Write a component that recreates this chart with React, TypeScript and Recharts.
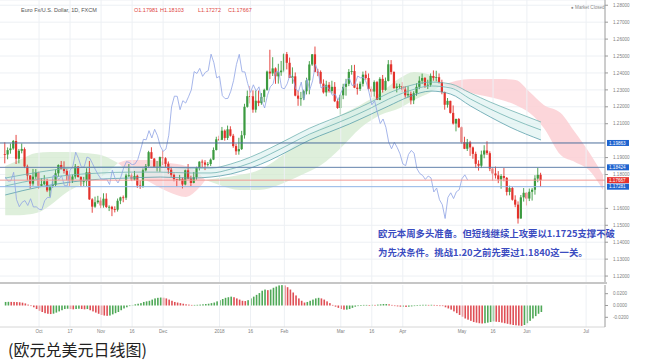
import React from 'react';
import { Area, Bar, CartesianGrid, ComposedChart, Line, ReferenceLine, XAxis, YAxis } from 'recharts';

// EUR/USD daily candles, one array per month: [open, high, low, close]
type Ohlc = [number, number, number, number];

const sep17: Ohlc[] = [
  [1.1920, 1.1990, 1.1866, 1.1918], [1.1918, 1.1960, 1.1890, 1.1944], [1.1944, 1.1983, 1.1923, 1.1954],
  [1.1954, 1.2004, 1.1946, 1.1998], [1.1998, 1.2034, 1.1862, 1.1893], [1.1893, 1.1951, 1.1866, 1.1940],
  [1.1940, 1.1983, 1.1925, 1.1951], [1.1950, 1.1960, 1.1838, 1.1847], [1.1847, 1.1858, 1.1765, 1.1794],
  [1.1794, 1.1797, 1.1718, 1.1746], [1.1746, 1.1833, 1.1734, 1.1787], [1.1787, 1.1832, 1.1774, 1.1813],
];
const oct17: Ohlc[] = [
  [1.1813, 1.1817, 1.1715, 1.1733], [1.1733, 1.1778, 1.1728, 1.1743], [1.1743, 1.1796, 1.1737, 1.1760],
  [1.1760, 1.1775, 1.1696, 1.1706], [1.1706, 1.1730, 1.1669, 1.1733], [1.1733, 1.1775, 1.1722, 1.1739],
  [1.1739, 1.1830, 1.1730, 1.1807], [1.1807, 1.1860, 1.1787, 1.1856], [1.1856, 1.1880, 1.1830, 1.1834],
  [1.1834, 1.1878, 1.1806, 1.1821], [1.1821, 1.1832, 1.1766, 1.1794], [1.1794, 1.1802, 1.1730, 1.1764],
  [1.1764, 1.1800, 1.1750, 1.1788], [1.1788, 1.1862, 1.1775, 1.1847], [1.1847, 1.1850, 1.1782, 1.1785],
  [1.1785, 1.1790, 1.1728, 1.1761], [1.1761, 1.1786, 1.1732, 1.1762], [1.1762, 1.1837, 1.1732, 1.1813],
  [1.1813, 1.1880, 1.1650, 1.1653], [1.1653, 1.1660, 1.1574, 1.1610], [1.1610, 1.1669, 1.1603, 1.1636],
  [1.1636, 1.1674, 1.1627, 1.1646],
];
const nov17: Ohlc[] = [
  [1.1646, 1.1665, 1.1601, 1.1617], [1.1617, 1.1689, 1.1604, 1.1657], [1.1657, 1.1689, 1.1602, 1.1608],
  [1.1608, 1.1618, 1.1584, 1.1609], [1.1609, 1.1615, 1.1554, 1.1595], [1.1595, 1.1612, 1.1576, 1.1592],
  [1.1592, 1.1658, 1.1581, 1.1645], [1.1645, 1.1669, 1.1625, 1.1665], [1.1665, 1.1676, 1.1636, 1.1663],
  [1.1663, 1.1805, 1.1650, 1.1794], [1.1794, 1.1862, 1.1785, 1.1795], [1.1795, 1.1807, 1.1761, 1.1769],
  [1.1769, 1.1821, 1.1765, 1.1792], [1.1792, 1.1799, 1.1721, 1.1735], [1.1735, 1.1764, 1.1715, 1.1733],
  [1.1733, 1.1836, 1.1722, 1.1825], [1.1825, 1.1862, 1.1818, 1.1850], [1.1850, 1.1940, 1.1842, 1.1932],
  [1.1932, 1.1961, 1.1893, 1.1894], [1.1894, 1.1897, 1.1843, 1.1844], [1.1844, 1.1880, 1.1818, 1.1845],
  [1.1845, 1.1906, 1.1816, 1.1903],
];
const dec17: Ohlc[] = [
  [1.1903, 1.1940, 1.1856, 1.1896], [1.1896, 1.1902, 1.1843, 1.1863], [1.1863, 1.1877, 1.1805, 1.1828],
  [1.1828, 1.1845, 1.1786, 1.1798], [1.1798, 1.1806, 1.1760, 1.1773], [1.1773, 1.1774, 1.1729, 1.1770],
  [1.1770, 1.1798, 1.1762, 1.1773], [1.1773, 1.1782, 1.1718, 1.1741], [1.1741, 1.1829, 1.1736, 1.1825],
  [1.1825, 1.1862, 1.1771, 1.1776], [1.1776, 1.1793, 1.1732, 1.1750], [1.1750, 1.1815, 1.1748, 1.1784],
  [1.1784, 1.1846, 1.1769, 1.1839], [1.1839, 1.1878, 1.1824, 1.1876], [1.1876, 1.1888, 1.1843, 1.1871],
  [1.1871, 1.1885, 1.1826, 1.1858], [1.1858, 1.1874, 1.1847, 1.1862], [1.1862, 1.1895, 1.1850, 1.1888],
  [1.1888, 1.1960, 1.1885, 1.1945], [1.1945, 1.2023, 1.1942, 1.2008],
];
const jan18: Ohlc[] = [
  [1.2008, 1.2029, 1.1998, 1.2005], [1.2005, 1.2081, 1.2003, 1.2059], [1.2059, 1.2066, 1.2000, 1.2016],
  [1.2016, 1.2089, 1.2004, 1.2067], [1.2067, 1.2085, 1.2024, 1.2029], [1.2029, 1.2040, 1.1958, 1.1968],
  [1.1968, 1.1982, 1.1916, 1.1937], [1.1937, 1.2017, 1.1917, 1.1950], [1.1950, 1.2058, 1.1945, 1.2032],
  [1.2032, 1.2218, 1.2012, 1.2200], [1.2200, 1.2296, 1.2195, 1.2263], [1.2263, 1.2323, 1.2220, 1.2262],
  [1.2262, 1.2297, 1.2165, 1.2183], [1.2183, 1.2296, 1.2166, 1.2236], [1.2236, 1.2296, 1.2204, 1.2222],
  [1.2222, 1.2281, 1.2212, 1.2259], [1.2259, 1.2307, 1.2227, 1.2300], [1.2300, 1.2414, 1.2295, 1.2408],
  [1.2408, 1.2537, 1.2364, 1.2397], [1.2397, 1.2493, 1.2382, 1.2427], [1.2427, 1.2433, 1.2336, 1.2380],
  [1.2380, 1.2454, 1.2337, 1.2404], [1.2404, 1.2471, 1.2383, 1.2414],
];
const feb18: Ohlc[] = [
  [1.2414, 1.2516, 1.2404, 1.2511], [1.2511, 1.2524, 1.2421, 1.2460], [1.2460, 1.2491, 1.2371, 1.2371],
  [1.2371, 1.2433, 1.2336, 1.2380], [1.2380, 1.2403, 1.2262, 1.2266], [1.2266, 1.2295, 1.2206, 1.2248],
  [1.2248, 1.2288, 1.2206, 1.2250], [1.2250, 1.2301, 1.2239, 1.2292], [1.2292, 1.2372, 1.2273, 1.2356],
  [1.2356, 1.2470, 1.2274, 1.2450], [1.2450, 1.2512, 1.2442, 1.2510], [1.2510, 1.2556, 1.2404, 1.2407],
  [1.2407, 1.2424, 1.2381, 1.2406], [1.2406, 1.2415, 1.2336, 1.2337], [1.2337, 1.2362, 1.2278, 1.2285],
  [1.2285, 1.2354, 1.2262, 1.2330], [1.2330, 1.2346, 1.2284, 1.2293], [1.2293, 1.2354, 1.2278, 1.2318],
  [1.2318, 1.2346, 1.2228, 1.2233], [1.2233, 1.2247, 1.2188, 1.2193],
];
const mar18: Ohlc[] = [
  [1.2193, 1.2273, 1.2154, 1.2268], [1.2268, 1.2336, 1.2245, 1.2318], [1.2318, 1.2365, 1.2266, 1.2336],
  [1.2336, 1.2423, 1.2322, 1.2406], [1.2406, 1.2446, 1.2390, 1.2411], [1.2411, 1.2448, 1.2310, 1.2313],
  [1.2313, 1.2337, 1.2272, 1.2306], [1.2306, 1.2349, 1.2294, 1.2336], [1.2336, 1.2408, 1.2320, 1.2390],
  [1.2390, 1.2413, 1.2360, 1.2370], [1.2370, 1.2397, 1.2301, 1.2306], [1.2306, 1.2320, 1.2257, 1.2290],
  [1.2290, 1.2356, 1.2260, 1.2346], [1.2346, 1.2353, 1.2240, 1.2241], [1.2241, 1.2375, 1.2239, 1.2365],
  [1.2365, 1.2388, 1.2284, 1.2300], [1.2300, 1.2373, 1.2295, 1.2353], [1.2353, 1.2476, 1.2350, 1.2451],
  [1.2451, 1.2476, 1.2391, 1.2406], [1.2406, 1.2409, 1.2306, 1.2311], [1.2311, 1.2338, 1.2285, 1.2320],
  [1.2320, 1.2336, 1.2306, 1.2323],
];
const apr18: Ohlc[] = [
  [1.2323, 1.2346, 1.2286, 1.2302], [1.2302, 1.2321, 1.2254, 1.2268], [1.2268, 1.2322, 1.2256, 1.2276],
  [1.2276, 1.2290, 1.2214, 1.2238], [1.2238, 1.2292, 1.2216, 1.2280], [1.2280, 1.2339, 1.2265, 1.2318],
  [1.2318, 1.2380, 1.2304, 1.2354], [1.2354, 1.2396, 1.2334, 1.2370], [1.2370, 1.2376, 1.2312, 1.2326],
  [1.2326, 1.2360, 1.2305, 1.2330], [1.2330, 1.2397, 1.2319, 1.2382], [1.2382, 1.2415, 1.2354, 1.2371],
  [1.2371, 1.2413, 1.2350, 1.2375], [1.2375, 1.2397, 1.2338, 1.2346], [1.2346, 1.2360, 1.2274, 1.2287],
  [1.2287, 1.2290, 1.2183, 1.2212], [1.2212, 1.2252, 1.2195, 1.2235], [1.2235, 1.2236, 1.2160, 1.2164],
  [1.2164, 1.2208, 1.2095, 1.2101], [1.2101, 1.2130, 1.2055, 1.2128], [1.2128, 1.2134, 1.2076, 1.2079],
];
const may18: Ohlc[] = [
  [1.2079, 1.2083, 1.1982, 1.1991], [1.1991, 1.2023, 1.1950, 1.1952], [1.1952, 1.2010, 1.1939, 1.1990],
  [1.1990, 1.1999, 1.1910, 1.1960], [1.1960, 1.1965, 1.1893, 1.1922], [1.1922, 1.1935, 1.1838, 1.1863],
  [1.1863, 1.1884, 1.1823, 1.1852], [1.1852, 1.1941, 1.1838, 1.1918], [1.1918, 1.1973, 1.1896, 1.1942],
  [1.1942, 1.1996, 1.1915, 1.1926], [1.1926, 1.1937, 1.1820, 1.1835], [1.1835, 1.1842, 1.1763, 1.1806],
  [1.1806, 1.1847, 1.1776, 1.1795], [1.1795, 1.1820, 1.1749, 1.1771], [1.1771, 1.1802, 1.1716, 1.1791],
  [1.1791, 1.1838, 1.1760, 1.1780], [1.1780, 1.1785, 1.1676, 1.1697], [1.1697, 1.1734, 1.1677, 1.1720],
  [1.1720, 1.1726, 1.1646, 1.1651], [1.1651, 1.1677, 1.1607, 1.1622], [1.1622, 1.1641, 1.1510, 1.1540],
  [1.1540, 1.1679, 1.1539, 1.1665], [1.1665, 1.1720, 1.1640, 1.1692],
];
const jun18: Ohlc[] = [
  [1.1692, 1.1695, 1.1617, 1.1658], [1.1658, 1.1717, 1.1643, 1.1698], [1.1698, 1.1720, 1.1646, 1.1710],
  [1.1710, 1.1796, 1.1681, 1.1776], [1.1776, 1.1840, 1.1754, 1.1798], [1.17981, 1.18103, 1.17272, 1.17667],
];

// Awesome Oscillator, one value per candle
const ao2017 = [
  0.0060, 0.0062, 0.0061, 0.0060, 0.0058, 0.0055, 0.0048, 0.0035, 0.0015, -0.0005,
  -0.003, -0.006, -0.009, -0.011, -0.013, -0.014, -0.0145, -0.0138, -0.012, -0.010,
  -0.008, -0.006, -0.0055, -0.006, -0.0065, -0.006, -0.0055, -0.006, -0.0065, -0.006,
  -0.008, -0.010, -0.012, -0.014, -0.016, -0.017, -0.0175, -0.017, -0.015, -0.013,
  -0.011, -0.008, -0.005, -0.003, -0.001, 0.001, 0.002, 0.003, 0.004, 0.006,
  0.007, 0.008, 0.010, 0.012, 0.013, 0.0135, 0.0132, 0.012, 0.010, 0.008,
  0.006, 0.005, 0.004, 0.003, 0.002, 0.0015, 0.001, 0.001, 0.0012, 0.0015,
  0.002, 0.0025, 0.003, 0.004, 0.005, 0.007,
];
const ao2018 = [
  0.009, 0.011, 0.013, 0.014, 0.015, 0.014, 0.012, 0.010, 0.008, 0.0075,
  0.009, 0.012, 0.015, 0.018, 0.021, 0.025, 0.027, 0.026, 0.027, 0.030,
  0.032, 0.034, 0.0345, 0.034, 0.031, 0.027, 0.022, 0.017, 0.012, 0.008,
  0.005, 0.006, 0.008, 0.010, 0.012, 0.013, 0.012, 0.010, 0.007, 0.004,
  0.001, -0.002, -0.004, -0.006, -0.007, -0.007, -0.006, -0.004, -0.002, -0.001,
  0.0005, 0.001, 0.001, 0.0008, 0.0012, 0.001, 0.0015, 0.002, 0.0025, 0.0025,
  0.002, 0.001, -0.001, -0.0015, -0.002, -0.002, -0.0025, -0.002, -0.0015, -0.001,
  0.0005, 0.001, 0.0012, 0.0012, 0.001, 0.0012, 0.001, 0.0005, 0.0, -0.001,
  -0.003, -0.005, -0.007, -0.010, -0.013, -0.016, -0.019, -0.022, -0.024, -0.026,
  -0.028, -0.029, -0.030, -0.0305, -0.030, -0.029, -0.028, -0.027, -0.0275, -0.028,
  -0.029, -0.030, -0.031, -0.032, -0.033, -0.0335, -0.034, -0.0345, -0.033, -0.030,
  -0.026, -0.022, -0.018, -0.014, -0.011,
];

// Ichimoku cloud: [date, upper, lower]
const cloudGreenA: [string, number, number][] = [
  ['2017-09-14', 1.1850, 1.1560], ['2017-09-21', 1.1886, 1.1560], ['2017-09-29', 1.1927, 1.1572],
  ['2017-10-06', 1.1933, 1.1619], ['2017-10-16', 1.1933, 1.1696], ['2017-10-24', 1.1927, 1.1749],
  ['2017-11-01', 1.1915, 1.1785], ['2017-11-07', 1.1886, 1.1838], ['2017-11-09', 1.1868, 1.1868],
];
const cloudRedA: [string, number, number][] = [
  ['2017-11-09', 1.1868, 1.1868], ['2017-11-15', 1.1886, 1.1815], ['2017-11-24', 1.1886, 1.1757],
  ['2017-12-05', 1.1868, 1.1696], ['2017-12-13', 1.1850, 1.1667], ['2017-12-19', 1.1815, 1.1708],
  ['2017-12-22', 1.1767, 1.1767],
];
const cloudGreenB: [string, number, number][] = [
  ['2017-12-22', 1.1767, 1.1767], ['2018-01-01', 1.1779, 1.1738], ['2018-01-10', 1.1797, 1.1708],
  ['2018-01-19', 1.1826, 1.1708], ['2018-01-30', 1.1897, 1.1738], ['2018-02-09', 1.2004, 1.1797],
  ['2018-02-20', 1.2075, 1.1856], ['2018-03-01', 1.2151, 1.1957], ['2018-03-12', 1.2211, 1.2075],
  ['2018-03-21', 1.2281, 1.2151], ['2018-03-30', 1.2370, 1.2193], ['2018-04-06', 1.2406, 1.2240],
  ['2018-04-16', 1.2388, 1.2287], ['2018-04-20', 1.2330, 1.2330],
];
const cloudRedB: [string, number, number][] = [
  ['2018-04-20', 1.2330, 1.2330], ['2018-05-04', 1.2364, 1.2281], ['2018-05-21', 1.2364, 1.2240],
  ['2018-05-28', 1.2358, 1.2211], ['2018-06-04', 1.2287, 1.2163], ['2018-06-11', 1.2211, 1.2075],
  ['2018-06-19', 1.2163, 1.1915], ['2018-06-26', 1.2051, 1.1874], ['2018-07-03', 1.1933, 1.1826],
  ['2018-07-10', 1.1797, 1.1708],
];

// moving-average ribbon: [date, upper, middle, lower]
const ribbon: [string, number, number, number][] = [
  ['2017-09-14', 1.1779, 1.1732, 1.1679], ['2017-10-02', 1.1814, 1.1773, 1.1726],
  ['2017-10-17', 1.1838, 1.1797, 1.1755], ['2017-11-01', 1.1844, 1.1809, 1.1773],
  ['2017-11-15', 1.1844, 1.1814, 1.1779], ['2017-11-30', 1.1844, 1.1814, 1.1785],
  ['2017-12-15', 1.1838, 1.1809, 1.1779], ['2017-12-27', 1.1838, 1.1809, 1.1785],
  ['2018-01-05', 1.1862, 1.1832, 1.1803], ['2018-01-16', 1.1903, 1.1868, 1.1838],
  ['2018-01-25', 1.1956, 1.1921, 1.1885], ['2018-02-05', 1.2015, 1.1980, 1.1944],
  ['2018-02-14', 1.2074, 1.2039, 1.2004], ['2018-02-23', 1.2122, 1.2086, 1.2051],
  ['2018-03-06', 1.2169, 1.2134, 1.2098], ['2018-03-15', 1.2222, 1.2187, 1.2151],
  ['2018-03-26', 1.2281, 1.2246, 1.2205], ['2018-04-04', 1.2323, 1.2293, 1.2258],
  ['2018-04-16', 1.2346, 1.2323, 1.2293], ['2018-04-25', 1.2335, 1.2311, 1.2275],
  ['2018-05-04', 1.2281, 1.2246, 1.2205], ['2018-05-15', 1.2228, 1.2187, 1.2140],
  ['2018-05-24', 1.2181, 1.2134, 1.2080], ['2018-06-08', 1.2110, 1.2063, 1.2004],
];

// 1.20 and 1.17 sit under the price tags in the original, so they are left out
const PRICE_TICKS = [1.12, 1.13, 1.14, 1.15, 1.16, 1.18, 1.19, 1.21, 1.22, 1.23, 1.24, 1.25, 1.26, 1.27, 1.28];
const AO_TICKS = [-0.02, 0, 0.02];
const TICK_DATES = [
  '2017-10-02', '2017-10-17', '2017-11-01', '2017-11-16', '2017-12-01', '2018-01-01', '2018-01-16',
  '2018-02-01', '2018-03-01', '2018-03-16', '2018-04-02', '2018-05-01', '2018-05-16', '2018-06-01', '2018-07-02',
];
const TICK_LABELS = ['Oct', '17', 'Nov', '16', 'Dec', '2018', '16', 'Feb', 'Mar', '16', 'Apr', 'May', '16', 'Jun', 'Jul'];

const GREEN = '#3b9a3f';
const RED = '#e3322c';
const X_DOMAIN: [number, number] = [-1.844, 212.7];
const LAG = 26;

// weekday bar dates (FXCM skips Christmas day)
function tradingDays(count: number): string[] {
  const out: string[] = [];
  const d = new Date(Date.UTC(2017, 8, 14));
  while (out.length < count) {
    const dow = d.getUTCDay();
    const iso = d.toISOString().slice(0, 10);
    if (dow !== 0 && dow !== 6 && iso !== '2017-12-25') out.push(iso);
    d.setUTCDate(d.getUTCDate() + 1);
  }
  return out;
}

const candles = [...sep17, ...oct17, ...nov17, ...dec17, ...jan18, ...feb18, ...mar18, ...apr18, ...may18, ...jun18];
const aoValues = [...ao2017, ...ao2018];
const DAYS = tradingDays(213);
const dayIndex = (iso: string) => DAYS.indexOf(iso);
const tickIdx = TICK_DATES.map(dayIndex);

const rows: any[] = DAYS.map((date, i) => {
  const row: any = { i, date };
  const k = candles[i];
  if (k) {
    row.o = k[0]; row.h = k[1]; row.l = k[2]; row.c = k[3];
    row.hl = [k[2], k[1]];
  }
  if (i < aoValues.length) {
    row.ao = aoValues[i];
    row.aoUp = i === 0 || aoValues[i] >= aoValues[i - 1];
  }
  if (candles[i + LAG]) row.lag = candles[i + LAG][3];
  return row;
});

const putCloud = (key: string, list: [string, number, number][]) =>
  list.forEach(([d, hi, lo]) => { rows[dayIndex(d)][key] = [lo, hi]; });
putCloud('g1', cloudGreenA);
putCloud('r1', cloudRedA);
putCloud('g2', cloudGreenB);
putCloud('r2', cloudRedB);
ribbon.forEach(([d, t, m, b]) => {
  const r = rows[dayIndex(d)];
  r.rt = t; r.rm = m; r.rb = b; r.rband = [b, t];
});

const tickLabel = (v: number) => TICK_LABELS[tickIdx.indexOf(v)] ?? '';

function Candle(props: any) {
  const { x, y, width, height, payload } = props;
  if (!payload || payload.o == null) return null;
  const { o, h, l, c } = payload;
  const cx = x + width / 2;
  const span = h - l || 1e-6;
  const yOf = (v: number) => y + ((h - v) / span) * height;
  const color = c >= o ? GREEN : RED;
  const top = yOf(Math.max(o, c));
  const bot = yOf(Math.min(o, c));
  return (
    <g>
      <line x1={cx} x2={cx} y1={y} y2={y + height} stroke={color} strokeWidth={0.9} />
      <rect x={cx - 1.1} y={top} width={2.2} height={Math.max(bot - top, 0.8)} fill={color} />
    </g>
  );
}

function AoBar(props: any) {
  const { x, y, width, height, payload } = props;
  if (!payload || payload.ao == null) return null;
  const top = height < 0 ? y + height : y;
  return <rect x={x} y={top} width={width} height={Math.max(Math.abs(height), 0.6)} fill={payload.aoUp ? '#4fa857' : '#df4f55'} />;
}

function PriceTag(props: any) {
  const { viewBox, text, color } = props;
  if (!viewBox) return null;
  const x = viewBox.x + viewBox.width;
  const y = viewBox.y;
  return (
    <g>
      <rect x={x + 2} y={y - 3} width={22} height={6} fill={color} />
      <text x={x + 4} y={y + 1.7} fontSize={4.6} fill="#fff" fontFamily="Liberation Sans, Arial, sans-serif">{text}</text>
    </g>
  );
}

const noDots = { dot: false, activeDot: false, isAnimationActive: false } as const;
const smallTick = { fontSize: 4.6, fill: '#808080', fontFamily: 'Liberation Sans, Arial, sans-serif' };
const note = { position: 'absolute' as const, left: 378, fontSize: 9.4, lineHeight: '12px', fontWeight: 700, color: '#3b4cc0', whiteSpace: 'nowrap' as const, fontFamily: '"Noto Sans CJK SC", sans-serif' };
const head = { position: 'absolute' as const, top: 6, fontSize: 5.5, lineHeight: '8px', whiteSpace: 'nowrap' as const, fontFamily: 'Liberation Sans, Arial, sans-serif' };

export default function App() {
  return (
    <div style={{ position: 'absolute', left: 0, top: 0, width: 647, height: 363, background: '#fff', overflow: 'hidden' }}>
      <ComposedChart width={647} height={283} data={rows} margin={{ top: 0, right: 0, bottom: 0, left: 0 }}>
        <CartesianGrid vertical={false} stroke="#edf0f4" />
        <XAxis dataKey="i" type="number" domain={X_DOMAIN} allowDataOverflow hide />
        <YAxis
          orientation="right"
          width={42}
          domain={[1.1159, 1.2831]}
          allowDataOverflow
          ticks={PRICE_TICKS}
          interval={0}
          tickFormatter={(v: number) => v.toFixed(5)}
          tick={smallTick}
          tickSize={3}
          tickMargin={5}
          axisLine={{ stroke: '#9a9a9a' }}
          tickLine={{ stroke: '#9a9a9a' }}
        />
        {tickIdx.map((t) => (
          <ReferenceLine key={t} x={t} stroke="#edf0f4" />
        ))}
        <Area type="monotone" dataKey="g1" stroke="none" fill="#d3eacf" fillOpacity={0.75} connectNulls {...noDots} />
        <Area type="monotone" dataKey="r1" stroke="none" fill="#fbcfd3" fillOpacity={0.8} connectNulls {...noDots} />
        <Area type="monotone" dataKey="g2" stroke="none" fill="#d3eacf" fillOpacity={0.75} connectNulls {...noDots} />
        <Area type="monotone" dataKey="r2" stroke="none" fill="#fbcfd3" fillOpacity={0.85} connectNulls {...noDots} />
        <Area type="monotone" dataKey="rband" stroke="none" fill="#d8f0ee" fillOpacity={0.6} connectNulls {...noDots} />
        <Line type="monotone" dataKey="rt" stroke="#72b3b1" strokeWidth={0.8} connectNulls {...noDots} />
        <Line type="monotone" dataKey="rm" stroke="#72b3b1" strokeWidth={0.8} connectNulls {...noDots} />
        <Line type="monotone" dataKey="rb" stroke="#5b9fab" strokeWidth={0.8} connectNulls {...noDots} />
        <Line type="linear" dataKey="lag" stroke="#8fa3e4" strokeWidth={0.8} {...noDots} />
        <ReferenceLine y={1.19863} stroke="#4d6f9c" label={<PriceTag text="1.19863" color="#1f64cf" />} />
        <ReferenceLine y={1.18424} stroke="#6383ad" label={<PriceTag text="1.18424" color="#1f64cf" />} />
        <ReferenceLine y={1.17667} stroke="#f19b96" label={<PriceTag text="1.17667" color="#e5332f" />} />
        <ReferenceLine y={1.17281} stroke="#8fb4e6" label={<PriceTag text="1.17281" color="#1f64cf" />} />
        <Bar dataKey="hl" barSize={2} shape={(p: any) => <Candle {...p} />} isAnimationActive={false} />
      </ComposedChart>

      <div style={{ position: 'absolute', left: 0, top: 282, width: 607, height: 2, background: '#c6c6c6' }} />

      <div style={{ position: 'absolute', left: 0, top: 283 }}>
        <ComposedChart width={647} height={58} data={rows} margin={{ top: 2, right: 0, bottom: 0, left: 0 }}>
          <XAxis
            dataKey="i"
            type="number"
            domain={X_DOMAIN}
            allowDataOverflow
            ticks={tickIdx}
            interval={0}
            tickFormatter={tickLabel}
            tick={smallTick}
            tickLine={false}
            tickSize={2}
            tickMargin={1}
            axisLine={{ stroke: '#d6d6d6' }}
            height={14}
          />
          <YAxis
            orientation="right"
            width={42}
            domain={[-0.0364, 0.0347]}
            allowDataOverflow
            ticks={AO_TICKS}
            interval={0}
            tickFormatter={(v: number) => v.toFixed(4)}
            tick={smallTick}
            tickSize={3}
            tickMargin={5}
            axisLine={{ stroke: '#9a9a9a' }}
            tickLine={{ stroke: '#9a9a9a' }}
          />
          {tickIdx.map((t) => (
            <ReferenceLine key={t} x={t} stroke="#edf0f4" />
          ))}
          <Bar dataKey="ao" barSize={1.6} shape={(p: any) => <AoBar {...p} />} isAnimationActive={false} />
        </ComposedChart>
      </div>

      <div style={{ ...head, left: 21, color: '#555' }}>Euro Fx/U.S. Dollar, 1D, FXCM</div>
      <div style={{ ...head, left: 134, color: '#e0463f' }}>O1.17981</div>
      <div style={{ ...head, left: 160, color: '#e0463f' }}>H1.18103</div>
      <div style={{ ...head, left: 198, color: '#e0463f' }}>L1.17272</div>
      <div style={{ ...head, left: 228, color: '#e0463f' }}>C1.17667</div>
      <div style={{ ...head, left: 571, top: 4, fontSize: 4.6, color: '#8a8a8a' }}>● Market Closed</div>

      <div style={{ ...note, top: 227 }}>欧元本周多头准备。但短线继续上攻要以1.1725支撑不破</div>
      <div style={{ ...note, top: 246 }}>为先决条件。挑战1.20之前先要过1.1840这一关。</div>

      <div style={{ position: 'absolute', left: 8, top: 338, fontSize: 16, lineHeight: '22px', color: '#222', whiteSpace: 'nowrap', fontFamily: '"Noto Sans CJK SC", sans-serif' }}>
        (欧元兑美元日线图)
      </div>
    </div>
  );
}
